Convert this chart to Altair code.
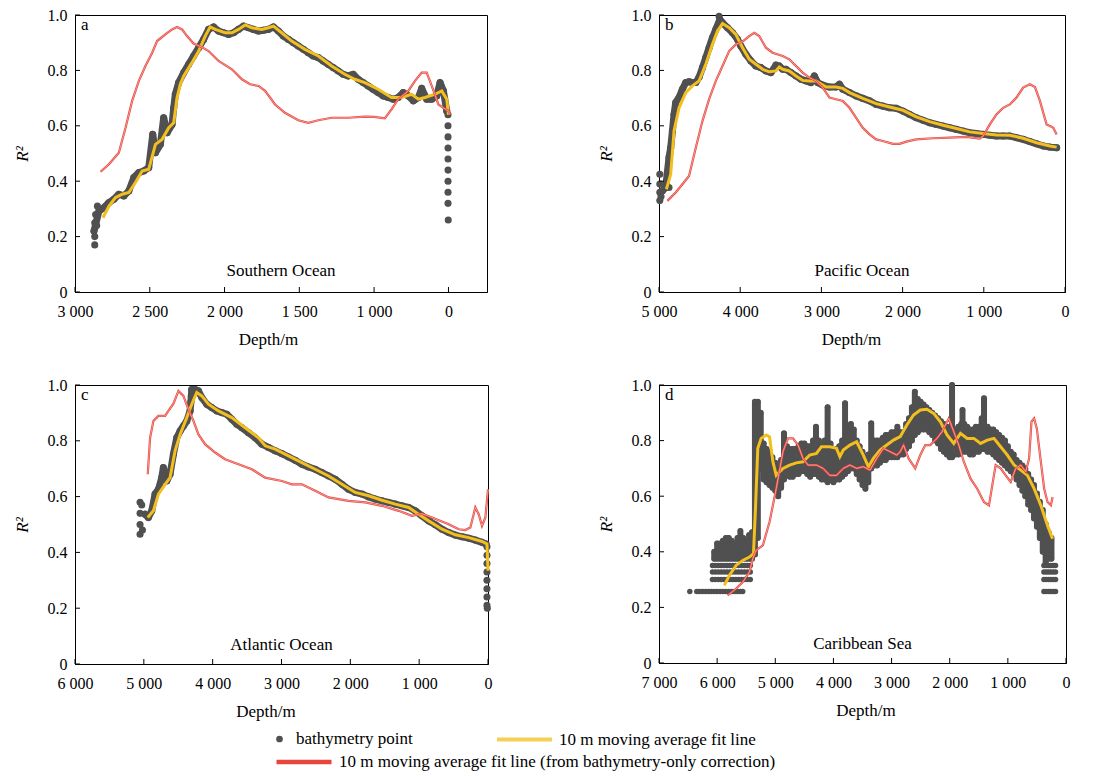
import altair as alt
import pandas as pd

FONT = "Liberation Serif, Times New Roman, Times, serif"
GRAY = "#505050"
YEL = "#f3bf1f"
RED = "#e8453c"
PINK = "#f8b9b4"

LBL_PT = "bathymetry point"
LBL_Y = "10 m moving average fit line"
LBL_R = "10 m moving average fit line (from bathymetry-only correction)"

letters = ["a", "b", "c", "d"]
names = ["Southern Ocean", "Pacific Ocean", "Atlantic Ocean", "Caribbean Sea"]
y_ticks = [0, 0.2, 0.4, 0.6, 0.8, 1.0]
x_ticks_a = [3000, 2500, 2000, 1500, 1000, 0]
x_ticks_b = [5000, 4000, 3000, 2000, 1000, 0]
x_ticks_c = [6000, 5000, 4000, 3000, 2000, 1000, 0]
x_ticks_d = [7000, 6000, 5000, 4000, 3000, 2000, 1000, 0]

# ---------------- Panel a: Southern Ocean ----------------
a_dot_depth = [2873, 2840, 2807, 2773, 2740, 2707, 2673, 2640, 2607, 2573,
               2540, 2507, 2480, 2462, 2429, 2407, 2384, 2351, 2340, 2329,
               2307, 2273, 2240, 2207, 2173, 2140, 2107, 2073, 2040, 2007,
               1973, 1940, 1907, 1873, 1840, 1807, 1773, 1740, 1707, 1673,
               1640, 1607, 1573, 1540, 1507, 1473, 1440, 1407, 1373, 1340,
               1307, 1273, 1240, 1207, 1173, 1140, 1107, 1073, 1040, 1007,
               946, 878, 811, 743, 676, 608, 540, 473, 405, 360,
               293, 225, 158, 113, 68, 23]
a_dot_r = [.220, .292, .304, .323, .335, .353, .347, .365, .413, .431,
           .437, .449, .569, .503, .533, .629, .575, .605, .665, .714,
           .756, .792, .822, .852, .882, .912, .948, .957, .942, .936,
           .930, .936, .948, .960, .954, .948, .942, .945, .948, .957,
           .942, .924, .912, .900, .888, .876, .864, .852, .846, .834,
           .822, .810, .798, .786, .780, .786, .768, .756, .744, .732,
           .720, .708, .702, .696, .702, .720, .708, .690, .702, .735,
           .696, .696, .708, .756, .726, .653]
a_col_depth = [2868, 2868, 2868, 2862, 2855, 2850,
               6, 6, 6, 6, 6, 6, 6, 6, 6, 3]
a_col_r = [.17, .20, .25, .28, .24, .31,
           .64, .60, .56, .52, .48, .44, .40, .36, .32, .26]
a_yel_depth = [2813, 2773, 2729, 2684, 2640, 2596, 2551, 2507, 2462, 2418,
               2373, 2340, 2318, 2296, 2273, 2218, 2173, 2129, 2096, 2062,
               1996, 1951, 1907, 1862, 1818, 1751, 1707, 1673, 1618, 1551,
               1462, 1373, 1284, 1196, 1129, 1062, 946, 766, 631, 495,
               405, 315, 180, 90, 23, 0]
a_yel_r = [.268, .310, .341, .353, .359, .395, .437, .443, .533, .551,
           .593, .611, .700, .750, .780, .828, .870, .924, .957, .948,
           .936, .936, .948, .964, .954, .948, .954, .960, .936, .906,
           .876, .852, .816, .786, .768, .756, .732, .702, .702, .714,
           .696, .702, .714, .726, .696, .640]
a_red_depth = [2829, 2773, 2707, 2662, 2618, 2573, 2529, 2484, 2451, 2396,
               2351, 2318, 2284, 2251, 2207, 2151, 2107, 2040, 1951, 1884,
               1829, 1773, 1729, 1662, 1596, 1507, 1440, 1373, 1284, 1173,
               1062, 1000, 856, 766, 676, 540, 450, 360, 293, 225,
               135, 68, 0, -22]
a_red_r = [.434, .461, .503, .593, .690, .762, .816, .864, .906, .930,
           .948, .957, .948, .924, .897, .884, .870, .834, .804, .768,
           .750, .744, .726, .677, .647, .620, .611, .620, .629, .629,
           .633, .632, .627, .659, .696, .726, .762, .792, .792, .744,
           .677, .665, .653, .641]

# ---------------- Panel b: Pacific Ocean ----------------
b_dot_depth = [4959, 4918, 4877, 4856, 4835, 4815, 4794, 4753, 4712, 4671,
               4630, 4588, 4547, 4506, 4465, 4424, 4383, 4342, 4300, 4251,
               4218, 4156, 4095, 4033, 3992, 3930, 3868, 3807, 3745, 3683,
               3621, 3560, 3519, 3477, 3436, 3375, 3313, 3251, 3189, 3128,
               3087, 3045, 2984, 2901, 2819, 2778, 2737, 2654, 2572, 2490,
               2407, 2325, 2243, 2161, 2078, 1996, 1914, 1831, 1749, 1667,
               1585, 1502, 1420, 1338, 1255, 1173, 1091, 1008, 926, 844,
               762, 679, 597, 515, 432, 350, 268, 185, 103]
b_dot_r = [.365, .377, .485, .521, .581, .641, .684, .702, .732, .756,
           .759, .756, .756, .776, .810, .846, .882, .918, .948, .984,
           .972, .954, .936, .912, .888, .858, .834, .816, .810, .798,
           .792, .819, .816, .804, .804, .792, .780, .768, .762, .756,
           .780, .756, .747, .740, .740, .750, .732, .720, .708, .699,
           .690, .677, .671, .665, .663, .653, .641, .629, .620, .611,
           .605, .599, .593, .587, .581, .575, .572, .569, .566, .563,
           .563, .563, .557, .551, .543, .535, .527, .523, .521]
b_col_depth = [4990, 4990, 4990, 4990, 4975, 4877, 4260]
b_col_r = [.33, .36, .39, .425, .345, .377, .995]
b_yel_depth = [4909, 4856, 4815, 4753, 4671, 4588, 4506, 4424, 4342, 4280,
               4218, 4136, 4054, 3971, 3889, 3807, 3724, 3642, 3560, 3519,
               3477, 3395, 3313, 3231, 3148, 3066, 2942, 2819, 2737, 2654,
               2490, 2325, 2161, 1996, 1831, 1667, 1502, 1338, 1173, 1008,
               844, 679, 515, 350, 185, 103]
b_yel_r = [.371, .425, .581, .665, .720, .744, .762, .822, .894, .942,
           .969, .954, .930, .882, .840, .822, .804, .795, .798, .812,
           .804, .798, .780, .764, .762, .762, .740, .740, .735, .720,
           .699, .680, .668, .656, .632, .615, .602, .590, .578, .572,
           .567, .566, .555, .539, .527, .523]
b_red_depth = [4897, 4794, 4712, 4630, 4547, 4465, 4383, 4300, 4218, 4136,
               4054, 3971, 3889, 3827, 3766, 3683, 3601, 3477, 3395, 3313,
               3231, 3148, 3066, 2984, 2901, 2819, 2737, 2654, 2572, 2490,
               2407, 2325, 2243, 2120, 2037, 1955, 1831, 1626, 1420, 1214,
               1050, 1008, 926, 844, 762, 679, 597, 515, 432, 370,
               309, 227, 185, 144, 103]
b_red_r = [.329, .359, .389, .419, .521, .617, .696, .762, .816, .870,
           .894, .904, .924, .936, .924, .882, .864, .852, .840, .816,
           .792, .774, .762, .738, .702, .696, .690, .665, .629, .593,
           .569, .551, .545, .535, .535, .543, .551, .555, .557, .560,
           .554, .563, .605, .641, .665, .677, .702, .738, .750, .740,
           .690, .605, .599, .593, .569]

# ---------------- Panel c: Atlantic Ocean ----------------
c_dot_depth = [4982, 4934, 4885, 4837, 4788, 4740, 4716, 4667, 4619, 4570,
               4522, 4473, 4425, 4376, 4328, 4316, 4310, 4304, 4255, 4207,
               4158, 4085, 4013, 3940, 3867, 3795, 3722, 3649, 3576, 3480,
               3383, 3286, 3189, 3092, 2995, 2898, 2801, 2704, 2607, 2510,
               2413, 2316, 2219, 2122, 2025, 1929, 1832, 1735, 1638, 1541,
               1444, 1347, 1250, 1153, 1056, 959, 862, 765, 668, 571,
               474, 377, 280, 184, 87, 29]
c_dot_r = [.537, .525, .549, .609, .626, .668, .704, .656, .680, .752,
           .811, .835, .853, .871, .907, .94, .96, .984, .984, .979,
           .955, .931, .919, .907, .901, .895, .877, .859, .847, .829,
           .811, .788, .776, .764, .754, .742, .730, .716, .706, .698,
           .686, .674, .662, .644, .626, .615, .609, .599, .591, .585,
           .579, .573, .567, .561, .549, .531, .513, .499, .483, .471,
           .462, .456, .451, .444, .436, .430]
c_col_depth = [5055, 5055, 5055, 5055, 5020, 5030,
               15, 15, 15, 15, 15, 15, 15, 15, 10]
c_col_r = [.465, .50, .54, .58, .48, .57,
           .42, .39, .36, .33, .30, .27, .24, .21, .20]
c_yel_depth = [4943, 4861, 4788, 4691, 4619, 4546, 4473, 4376, 4304, 4231,
               4158, 4061, 3916, 3722, 3528, 3334, 3237, 3092, 2898, 2704,
               2510, 2316, 2122, 1929, 1735, 1541, 1347, 1153, 1008, 862,
               668, 474, 280, 87, 15, 0]
c_yel_r = [.525, .549, .609, .644, .668, .764, .823, .883, .931, .973,
           .961, .931, .907, .883, .847, .811, .782, .770, .746, .722,
           .698, .674, .644, .615, .603, .587, .573, .561, .537, .513,
           .483, .463, .453, .439, .430, .334]
c_red_depth = [4943, 4909, 4861, 4788, 4691, 4643, 4570, 4497, 4425, 4352,
               4279, 4207, 4110, 3964, 3819, 3625, 3431, 3237, 2995, 2849,
               2704, 2510, 2316, 2025, 1783, 1541, 1298, 1105, 959, 814,
               571, 426, 329, 256, 184, 135, 87, 38, 0]
c_red_r = [.680, .811, .871, .889, .889, .907, .933, .979, .961, .913,
           .871, .823, .788, .758, .734, .716, .698, .668, .656, .644,
           .644, .621, .597, .585, .579, .567, .549, .531, .539, .525,
           .501, .483, .480, .489, .561, .537, .495, .525, .626]

# ---------------- Panel d: Caribbean Sea ----------------
d_rng_depth = [6050, 6000, 5950, 5900, 5850, 5800, 5750, 5700, 5650, 5600,
               5550, 5500, 5450, 5400,
               5350, 5300, 5250, 5200, 5150, 5100, 5050, 5000, 4950, 4900,
               4850, 4800, 4750, 4700, 4650, 4600, 4550, 4500, 4450, 4400,
               4350, 4300, 4250, 4200, 4150, 4100, 4050, 4000, 3950, 3900,
               3850, 3800, 3750, 3700, 3650, 3600, 3550, 3500, 3450, 3400,
               3350, 3300, 3250, 3200, 3150, 3100, 3050, 3000, 2950, 2900,
               2850, 2800, 2750, 2700, 2650, 2600, 2550, 2500, 2450, 2400,
               2350, 2300, 2250, 2200, 2150, 2100, 2050, 2000,
               1960, 1900, 1850, 1800, 1780,
               1750, 1700, 1650, 1600, 1550, 1500, 1450, 1410,
               1350, 1300, 1250, 1200, 1150, 1100, 1050, 1000, 950, 900,
               850, 800, 750, 700, 650, 600, 550, 500, 450, 400,
               350, 300, 250]
d_rng_lo = [.375, .375, .375, .375, .375, .375, .375, .375, .375, .375,
            .375, .375, .375, .375,
            .39, .45, .70, .66, .65, .64, .63, .62, .60, .63,
            .66, .68, .67, .67, .68, .68, .69, .69, .68, .67,
            .68, .68, .67, .66, .66, .65, .66, .65, .66, .66,
            .67, .68, .69, .70, .70, .68, .66, .64, .627, .65,
            .70, .71, .71, .72, .73, .73, .74, .74, .74, .74,
            .75, .75, .77, .78, .80, .82, .83, .84, .84, .84,
            .83, .82, .80, .79, .77, .76, .75, .74,
            .74, .75, .75, .76, .78,
            .76, .76, .75, .75, .76, .76, .77, .77,
            .76, .76, .75, .74, .73, .72, .71, .70, .69, .68,
            .66, .64, .62, .60, .57, .55, .52, .49, .45, .40,
            .36, .375, .375]
d_rng_hi = [.40, .43, .43, .44, .45, .45, .44, .43, .45, .475,
            .45, .44, .46, .47,
            .94, .94, .90, .79, .77, .76, .74, .72, .70, .73,
            .826, .78, .77, .77, .77, .78, .79, .79, .78, .78,
            .80, .85, .80, .78, .80, .92, .79, .76, .77, .78,
            .80, .934, .83, .86, .84, .80, .78, .76, .74, .75,
            .862, .80, .80, .80, .81, .82, .82, .83, .83, .85,
            .83, .83, .86, .88, .92, .976, .95, .94, .93, .92,
            .91, .90, .89, .88, .87, .86, .85, .84,
            1.0, .84, .85, .86, .91,
            .86, .85, .84, .84, .85, .85, .88, .952,
            .85, .84, .84, .83, .82, .81, .80, .78, .76, .75,
            .73, .72, .71, .70, .68, .66, .64, .61, .58, .55,
            .50, .47, .45]
d_row_depth = [6080, 6030, 5980, 5930, 5880, 5830, 5780, 5730, 5680, 5630,
               5580, 5530, 5480, 5430, 380, 340, 300, 260, 220, 180]
d_row_levels = [.30, .327, .351]
d_row26_depth = [6470, 6350, 6300, 6250, 6200, 6150, 6100, 6050, 6000, 5950,
                 5900, 5850, 5800, 5750, 5700, 5650, 5600, 5560,
                 380, 340, 300, 260, 220, 180]
d_yel_depth = [5877, 5790, 5675, 5560, 5445, 5375, 5341, 5301, 5243, 5157,
               5099, 5041, 4984, 4868, 4753, 4638, 4523, 4408, 4292, 4206,
               4062, 3947, 3889, 3831, 3716, 3601, 3486, 3399, 3313, 3198,
               3083, 2967, 2852, 2737, 2622, 2506, 2391, 2276, 2161, 2046,
               1930, 1815, 1700, 1585, 1469, 1354, 1239, 1124, 1008, 893,
               778, 663, 548, 433, 318, 231]
d_yel_r = [.279, .315, .351, .369, .381, .393, .555, .772, .808, .820,
           .814, .724, .675, .700, .712, .720, .724, .748, .754, .778,
           .778, .772, .742, .766, .784, .796, .748, .706, .736, .766,
           .784, .802, .814, .856, .892, .910, .913, .898, .868, .820,
           .790, .826, .808, .808, .790, .802, .808, .778, .748, .712,
           .694, .675, .627, .567, .495, .447]
d_red_depth = [5819, 5675, 5560, 5445, 5387, 5330, 5214, 5099, 4984, 4868,
               4782, 4696, 4609, 4523, 4436, 4292, 4177, 4062, 3947, 3831,
               3716, 3601, 3486, 3371, 3255, 3140, 3025, 2910, 2852, 2794,
               2708, 2593, 2506, 2420, 2334, 2218, 2132, 2017, 1930, 1844,
               1758, 1642, 1527, 1412, 1325, 1268, 1210, 1124, 1037, 951,
               865, 778, 692, 634, 594, 548, 502, 433, 375, 318,
               260, 231]
d_red_r = [.243, .267, .291, .327, .375, .405, .423, .507, .627, .760,
           .808, .808, .784, .736, .712, .712, .700, .675, .675, .700,
           .712, .700, .706, .694, .736, .772, .760, .748, .760, .784,
           .736, .700, .748, .784, .784, .808, .832, .880, .832, .784,
           .724, .663, .627, .579, .567, .639, .712, .700, .675, .651,
           .700, .712, .688, .736, .868, .880, .844, .724, .627, .579,
           .567, .597]

# ---------------- legends (positions tuned to the rendered layout) ----------------
LEG_PT = alt.Legend(title=None, orient="none", legendX=196, legendY=715.5,
                    symbolType="circle", symbolSize=45, labelOffset=8, padding=0, labelLimit=800)
LEG_Y = alt.Legend(title=None, orient="none", legendX=420, legendY=715.5,
                   symbolType="stroke", symbolSize=3025, symbolStrokeWidth=4, labelOffset=5, padding=0,
                   symbolOpacity=0.75, clipHeight=18, labelLimit=800)
LEG_R = alt.Legend(title=None, orient="none", legendX=199, legendY=738,
                   symbolType="stroke", symbolSize=3025, symbolStrokeWidth=4.5, labelOffset=5, padding=0,
                   clipHeight=18, labelLimit=800)

fill_scale = alt.Scale(domain=[LBL_PT], range=[GRAY])
stroke_scale = alt.Scale(domain=[LBL_Y], range=[YEL])
color_scale = alt.Scale(domain=[LBL_R], range=[RED])

X_LABEL = "replace(format(datum.value, ','), ',', ' ')"
Y_LABEL = "datum.value == 0 ? '0' : format(datum.value, '.1f')"


def panel(i, band_df, dot_df, yel_df, red_df, xscale, xticks, W, H, title_dx, pt_size, name_dy, rng_df=None):
    X = alt.X("depth:Q", scale=xscale,
              axis=alt.Axis(values=xticks, title="Depth/m", labelExpr=X_LABEL,
                            labelFlush=False, labelOverlap=False, titleX=W / 2 + title_dx))
    Yax = alt.Axis(values=y_ticks, title="R²", labelExpr=Y_LABEL)
    ysc = alt.Scale(domain=[0, 1], nice=False, zero=False)
    Y = alt.Y("r:Q", scale=ysc, axis=Yax)

    layers = []
    if rng_df is not None:
        layers.append(alt.Chart(rng_df).mark_rule(strokeWidth=6, strokeCap="round", color=GRAY).encode(
            x=X, y=alt.Y("lo:Q", scale=ysc, axis=Yax), y2="hi:Q"))
    if band_df is not None:
        layers.append(alt.Chart(band_df).mark_line(strokeWidth=7, strokeJoin="round", strokeCap="round",
                                                   color=GRAY).encode(x=X, y=Y))
    layers.append(alt.Chart(dot_df).mark_circle(size=pt_size, opacity=1).encode(
        x=X, y=Y, fill=alt.Fill("s:N", scale=fill_scale, legend=LEG_PT)))
    layers.append(alt.Chart(yel_df).mark_line(strokeWidth=3).encode(
        x=X, y=Y, stroke=alt.Stroke("s:N", scale=stroke_scale, legend=LEG_Y)))
    layers.append(alt.Chart(red_df).mark_line(strokeWidth=2.2).encode(
        x=X, y=Y, color=alt.Color("s:N", scale=color_scale, legend=LEG_R)))
    layers.append(alt.Chart(red_df).mark_line(strokeWidth=0.7, color=PINK).encode(x=X, y=Y))
    layers.append(alt.Chart(pd.DataFrame({"depth": xticks})).mark_rule(color="black", strokeWidth=1).encode(
        x=X, y=alt.value(H), y2=alt.value(H - 5)))
    layers.append(alt.Chart(pd.DataFrame({"r": y_ticks})).mark_rule(color="black", strokeWidth=1).encode(
        y=Y, x=alt.value(0), x2=alt.value(5)))
    layers.append(alt.Chart(pd.DataFrame({"t": [letters[i]]})).mark_text(
        align="left", baseline="middle", font=FONT, fontSize=17, color="black").encode(
        text="t:N", x=alt.value(6), y=alt.value(10)))
    layers.append(alt.Chart(pd.DataFrame({"t": [names[i]]})).mark_text(
        align="center", baseline="middle", font=FONT, fontSize=17, color="black").encode(
        text="t:N", x=alt.value(W / 2), y=alt.value(H - name_dy)))
    return alt.layer(*layers).properties(width=W, height=H)


def df(depth, r, label=None):
    d = pd.DataFrame({"depth": depth, "r": r})
    if label is not None:
        d["s"] = label
    return d


# panel a: axis labelled 3000..1000 at 500 m steps, then 1000 -> 0 in one step
Wa, Ha = 412, 277
unit_a = Wa / 5.51
xs_a = alt.Scale(domain=[3000, 1000, -518], range=[0, 4 * unit_a, Wa], nice=False, zero=False)
pa = panel(0, df(a_dot_depth, a_dot_r), df(a_dot_depth + a_col_depth, a_dot_r + a_col_r, LBL_PT),
           df(a_yel_depth, a_yel_r, LBL_Y), df(a_red_depth, a_red_r, LBL_R),
           xs_a, x_ticks_a, Wa, Ha, -13, 50, 21)

Wb, Hb = 406, 277
xs_b = alt.Scale(domain=[5000, 0], nice=False, zero=False)
pb = panel(1, df(b_dot_depth, b_dot_r), df(b_dot_depth + b_col_depth, b_dot_r + b_col_r, LBL_PT),
           df(b_yel_depth, b_yel_r, LBL_Y), df(b_red_depth, b_red_r, LBL_R),
           xs_b, x_ticks_b, Wb, Hb, -11, 50, 21)

Wc, Hc = 413, 279
xs_c = alt.Scale(domain=[6000, 0], nice=False, zero=False)
pc = panel(2, df(c_dot_depth, c_dot_r), df(c_dot_depth + c_col_depth, c_dot_r + c_col_r, LBL_PT),
           df(c_yel_depth, c_yel_r, LBL_Y), df(c_red_depth, c_red_r, LBL_R),
           xs_c, x_ticks_c, Wc, Hc, -16, 50, 19)

Wd, Hd = 407, 278
xs_d = alt.Scale(domain=[7000, 0], nice=False, zero=False)
d_dot_depth = d_rng_depth + d_rng_depth + [dd for lv in d_row_levels for dd in d_row_depth] + d_row26_depth
d_dot_r = d_rng_lo + d_rng_hi + [lv for lv in d_row_levels for dd in d_row_depth] + [0.257] * len(d_row26_depth)
d_rng = pd.DataFrame({"depth": d_rng_depth, "lo": d_rng_lo, "hi": d_rng_hi})
pd_ = panel(3, None, df(d_dot_depth, d_dot_r, LBL_PT), df(d_yel_depth, d_yel_r, LBL_Y),
            df(d_red_depth, d_red_r, LBL_R), xs_d, x_ticks_d, Wd, Hd, 3, 30, 19, rng_df=d_rng)

chart = alt.concat(pa, pb, pc, pd_, columns=2, spacing={"row": 28, "column": 101}).properties(
    padding={"left": 4, "top": -2, "right": 5, "bottom": 0}
).configure_view(stroke="black", strokeWidth=1).configure_axis(
    labelFont=FONT, titleFont=FONT, labelFontSize=16, titleFontSize=17, titleFontWeight="normal",
    labelColor="black", titleColor="black", domainColor="black", domainWidth=1, grid=False, ticks=False
).configure_axisX(labelPadding=11, titlePadding=12).configure_axisY(
    labelPadding=8, titlePadding=16, titleFontStyle="italic"
).configure_legend(labelFont=FONT, labelFontSize=17, labelColor="black")

chart.save("out.html", embed_options={"renderer": "svg", "actions": False})
